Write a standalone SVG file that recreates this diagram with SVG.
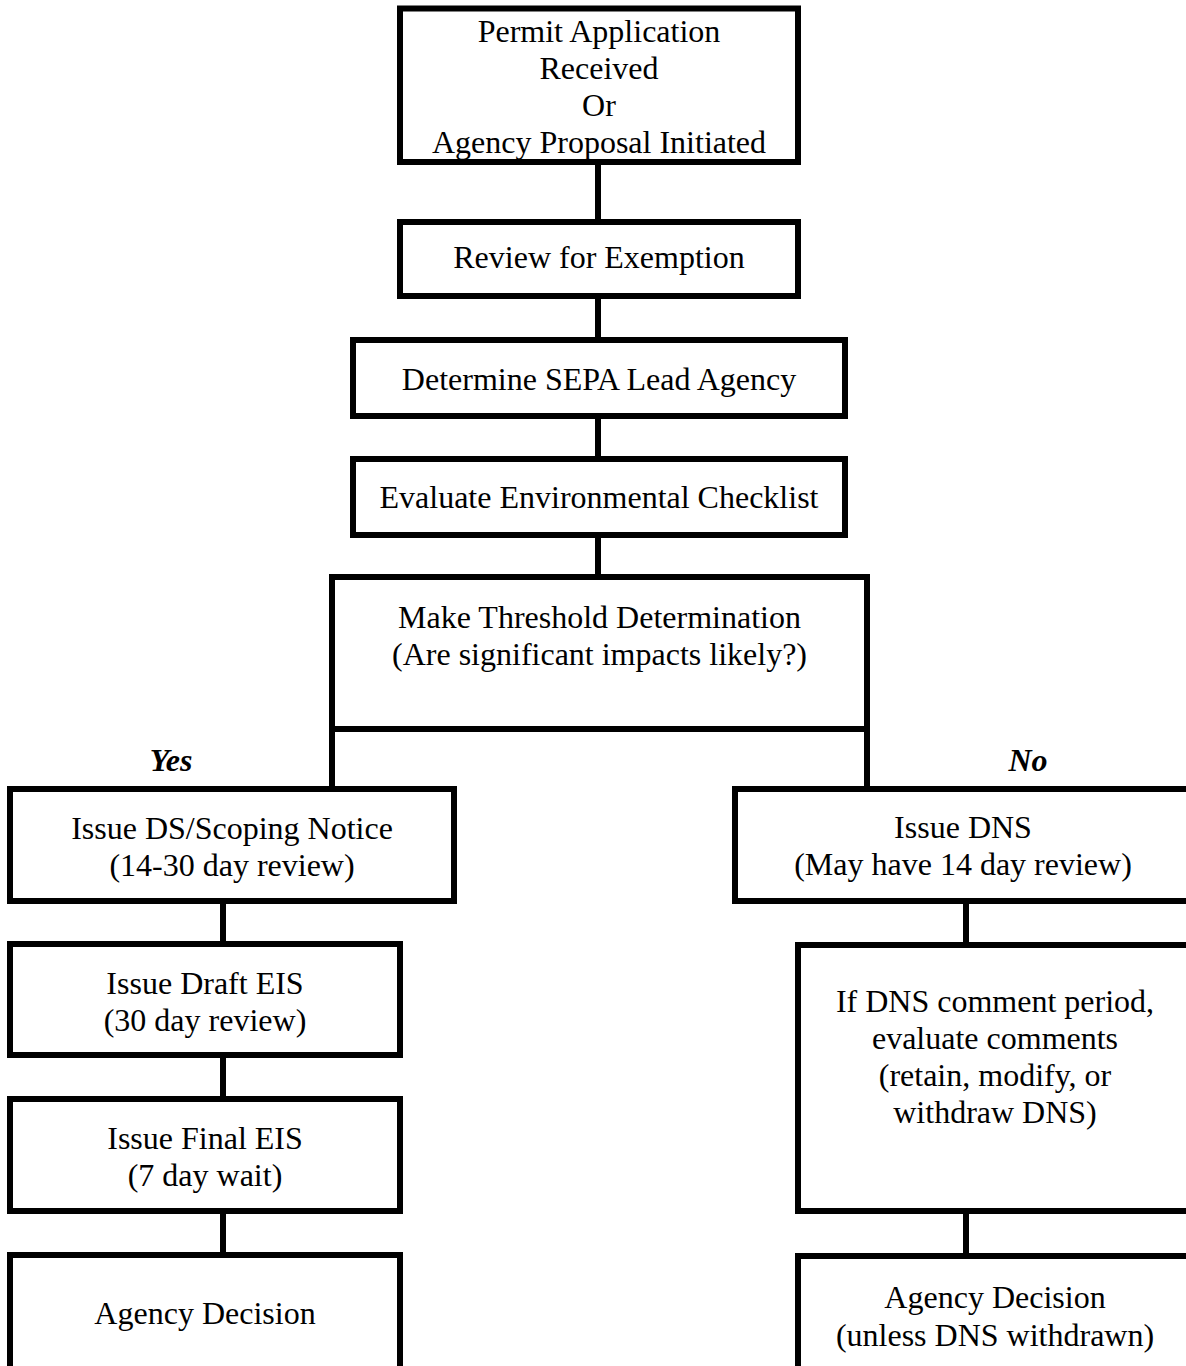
<svg xmlns="http://www.w3.org/2000/svg" width="1186" height="1366" viewBox="0 0 1186 1366">
<style>
.box{fill:#fff;stroke:#000;stroke-width:6}
.c{stroke:#000;stroke-width:6;fill:none}
text{font-family:"Liberation Serif","Times New Roman",serif;font-size:32px;fill:#000;text-anchor:middle}
.lbl{font-weight:bold;font-style:italic}
</style>
<rect width="1186" height="1366" fill="#fff"/>
<g id="connectors">
<line class="c" x1="598" y1="162" x2="598" y2="222"/>
<line class="c" x1="598" y1="296" x2="598" y2="340"/>
<line class="c" x1="598" y1="416" x2="598" y2="459"/>
<line class="c" x1="598" y1="535" x2="598" y2="577"/>
<line class="c" x1="332" y1="729" x2="332" y2="789"/>
<line class="c" x1="867" y1="729" x2="867" y2="789"/>
<line class="c" x1="223" y1="901" x2="223" y2="944"/>
<line class="c" x1="223" y1="1055" x2="223" y2="1099"/>
<line class="c" x1="223" y1="1211" x2="223" y2="1255"/>
<line class="c" x1="966" y1="901" x2="966" y2="945"/>
<line class="c" x1="966" y1="1211" x2="966" y2="1256"/>
<text class="lbl" x="171" y="771">Yes</text>
<text class="lbl" x="1028" y="771">No</text>
</g>
<g id="n1"><rect class="box" x="400" y="8.5" width="398" height="153.5"/>
<text x="599" y="42">Permit Application</text><text x="599" y="79">Received</text><text x="599" y="116">Or</text><text x="599" y="153">Agency Proposal Initiated</text></g>
<g id="n2"><rect class="box" x="400" y="222" width="398" height="74"/>
<text x="599" y="268">Review for Exemption</text></g>
<g id="n3"><rect class="box" x="353" y="340" width="492" height="76"/>
<text x="599" y="390">Determine SEPA Lead Agency</text></g>
<g id="n4"><rect class="box" x="353" y="459" width="492" height="76"/>
<text x="599" y="508">Evaluate Environmental Checklist</text></g>
<g id="n5"><rect class="box" x="332" y="577" width="535" height="152"/>
<text x="599.5" y="628">Make Threshold Determination</text><text x="599.5" y="665">(Are significant impacts likely?)</text></g>
<g id="n6"><rect class="box" x="10" y="789" width="444" height="112"/>
<text x="232" y="839">Issue DS/Scoping Notice</text><text x="232" y="876">(14-30 day review)</text></g>
<g id="n7"><rect class="box" x="10" y="944" width="390" height="111"/>
<text x="205" y="994">Issue Draft EIS</text><text x="205" y="1031">(30 day review)</text></g>
<g id="n8"><rect class="box" x="10" y="1099" width="390" height="112"/>
<text x="205" y="1149">Issue Final EIS</text><text x="205" y="1186">(7 day wait)</text></g>
<g id="n9"><rect class="box" x="10" y="1255" width="390" height="120"/>
<text x="205" y="1324">Agency Decision</text></g>
<g id="n10"><rect class="box" x="735" y="789" width="457" height="112"/>
<text x="963" y="838">Issue DNS</text><text x="963" y="875">(May have 14 day review)</text></g>
<g id="n11"><rect class="box" x="798" y="945" width="394" height="266"/>
<text x="995" y="1012">If DNS comment period,</text><text x="995" y="1049">evaluate comments</text><text x="995" y="1086">(retain, modify, or</text><text x="995" y="1123">withdraw DNS)</text></g>
<g id="n12"><rect class="box" x="798" y="1256" width="394" height="120"/>
<text x="995" y="1308">Agency Decision</text><text x="995" y="1346">(unless DNS withdrawn)</text></g>
</svg>
